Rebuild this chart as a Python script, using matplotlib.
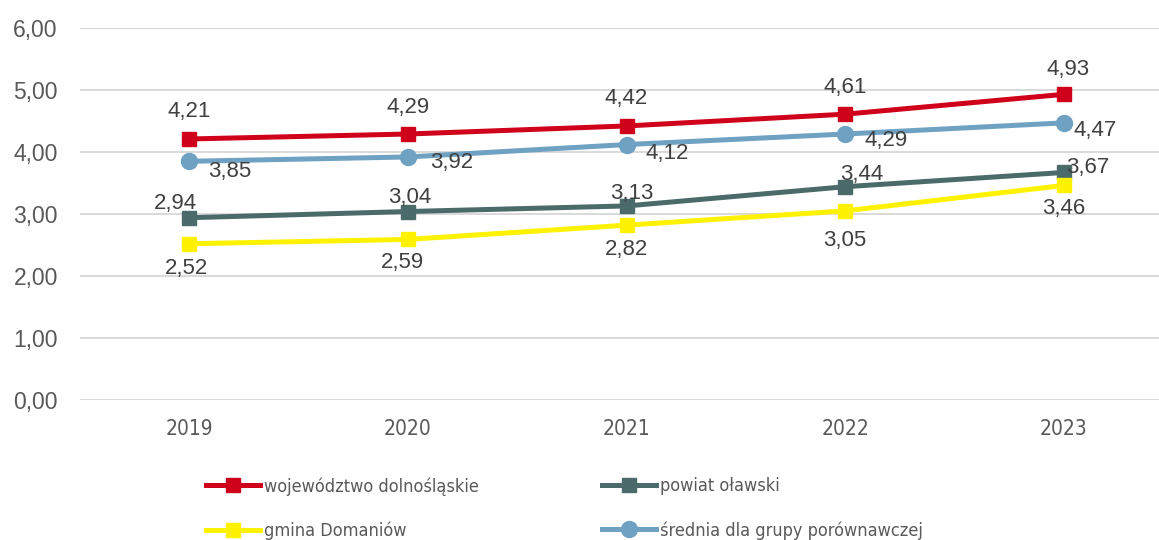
import matplotlib
matplotlib.use("Agg")
import matplotlib.pyplot as plt
from matplotlib import font_manager as fm

# values per year
years = ["2019", "2020", "2021", "2022", "2023"]
wojewodztwo = [4.21, 4.29, 4.42, 4.61, 4.93]
powiat = [2.94, 3.04, 3.13, 3.44, 3.67]
gmina = [2.52, 2.59, 2.82, 3.05, 3.46]
srednia = [3.85, 3.92, 4.12, 4.29, 4.47]

names = ["województwo dolnośląskie", "powiat oławski",
         "gmina Domaniów", "średnia dla grupy porównawczej"]

RED = "#d0021b"
DARK = "#4b6b6a"
YELLOW = "#fff200"
BLUE = "#6fa1c3"
GRID = "#d9d9d9"

plt.rcParams["font.family"] = ["Liberation Sans", "DejaVu Sans"]

# pick a narrow face for years and legend if one is installed
faces = {(f.name, f.stretch) for f in fm.fontManager.ttflist}
if any(n == "Liberation Sans Narrow" for n, s in faces):
    narrow = fm.FontProperties(family="Liberation Sans Narrow")
    small = 14.5
elif ("DejaVu Sans", "condensed") in faces:
    narrow = fm.FontProperties(family="DejaVu Sans", stretch="condensed")
    small = 13
else:
    narrow = fm.FontProperties(family="Liberation Sans")
    small = 13

fig = plt.figure(figsize=(11.59, 5.40), dpi=100)
ax = fig.add_axes([80 / 1159, 140 / 540, 1093 / 1159, 372 / 540])

x = list(range(len(years)))
lw = 3.6
l_red, = ax.plot(x, wojewodztwo, color=RED, lw=lw, marker="s", ms=10.5, zorder=3)
l_dark, = ax.plot(x, powiat, color=DARK, lw=lw, marker="s", ms=10.5, zorder=3)
l_yel, = ax.plot(x, gmina, color=YELLOW, lw=lw, marker="s", ms=10.5, zorder=3)
l_blue, = ax.plot(x, srednia, color=BLUE, lw=lw, marker="o", ms=11.5, zorder=3)

def fmt(v):
    return ("%.2f" % v).replace(".", ",")

# label offsets in pixels (dx, dy)
red_off = [(0, 27), (0, 27), (0, 27), (0, 27), (4, 25)]
blue_off = [(40, -10), (44, -6), (41, -9), (41, -6), (31, -8)]
dark_off = [(-14, 14), (2, 14), (5, 12), (17, 12), (24, 5)]
yel_off = [(-3, -25), (-5, -23), (0, -24), (0, -30), (0, -23)]

for series, offs in [(wojewodztwo, red_off), (srednia, blue_off),
                     (powiat, dark_off), (gmina, yel_off)]:
    for i, v in enumerate(series):
        ax.annotate(fmt(v), (i, v), xytext=offs[i], textcoords="offset pixels",
                    ha="center", va="center", fontsize=16, color="#404040",
                    zorder=5)

ax.set_xlim(-0.5, 4.5)
ax.set_ylim(0, 6)
ax.set_yticks([0, 1, 2, 3, 4, 5, 6])
ax.set_yticklabels([fmt(v) for v in range(7)])
ax.set_xticks(x)
ax.set_xticklabels(years)
for t in ax.get_xticklabels():
    t.set_fontproperties(narrow)
    t.set_fontsize(small + 2)
ax.tick_params(axis="y", length=0, pad=16, labelsize=16.5, labelcolor="#595959")
ax.tick_params(axis="x", length=0, pad=14, labelcolor="#595959")
ax.grid(axis="y", color=GRID, lw=1.4)
ax.set_axisbelow(True)
for s in ax.spines.values():
    s.set_visible(False)

leg_prop = narrow.copy()
leg_prop.set_size(small)
for handles, labels, left in [([l_red, l_yel], [names[0], names[2]], 206),
                              ([l_dark, l_blue], [names[1], names[3]], 602)]:
    leg = fig.legend(handles, labels, loc="upper left",
                     bbox_to_anchor=(left / 1159, 1 - 477 / 540),
                     frameon=False, prop=leg_prop,
                     handlelength=54 / (small * 100 / 72), handletextpad=0.2,
                     labelspacing=1.45, borderpad=0, borderaxespad=0)
    for t in leg.get_texts():
        t.set_color("#595959")

fig.savefig("out.png", dpi=100)
